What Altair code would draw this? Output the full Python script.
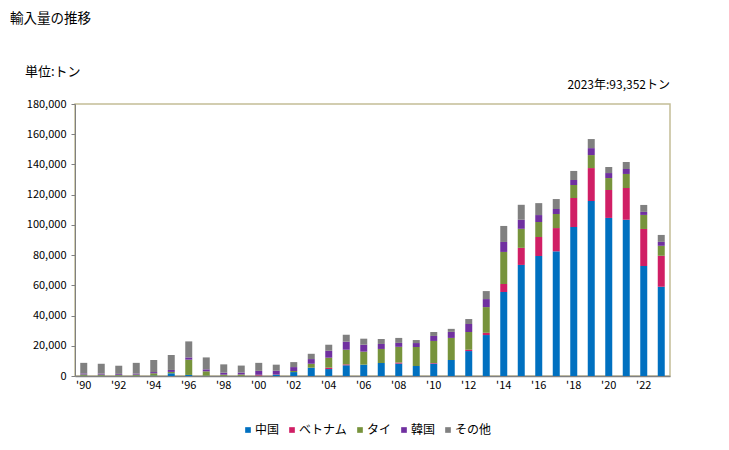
import altair as alt
import pandas as pd

years = [str(y) for y in range(1990, 2024)]
series = ["中国", "ベトナム", "タイ", "韓国", "その他"]
colors = ["#0070C0", "#D01F65", "#77933C", "#7030A0", "#808080"]

china = [200, 200, 200, 200, 300, 1800, 700, 200, 100, 100, 200, 700, 2600, 5500, 4600, 7100, 7500, 8600,
         8200, 6600, 8200, 10600, 16500, 27100, 55600, 73500, 79400, 82500, 98600, 115800, 104600, 103400,
         72800, 59052]
vietnam = [0, 0, 0, 0, 0, 0, 0, 0, 0, 0, 400, 0, 0, 0, 900, 600, 0, 0, 700, 0, 400, 0, 900, 1500,
           5300, 11300, 12600, 15400, 19200, 21800, 18500, 21000, 24500, 20500]
thai = [800, 700, 600, 700, 1500, 900, 10100, 2900, 800, 900, 200, 200, 700, 2600, 6600, 9700, 8600, 9300,
        10400, 12600, 14600, 14600, 11700, 17000, 21200, 12600, 9900, 9300, 8600, 8600, 7900, 9300, 9300, 6600]
korea = [700, 700, 600, 700, 800, 1300, 1500, 1300, 1300, 1300, 2600, 2600, 2600, 3100, 4600, 5300, 4600,
         3300, 2600, 2600, 3300, 4000, 5300, 5300, 6600, 6000, 4600, 3300, 3300, 4600, 3300, 3300, 2000, 2600]
other = [7000, 6500, 5400, 7100, 8000, 9900, 10600, 7900, 5500, 4600, 5300, 4000, 3300, 3500, 4000, 4600,
         4000, 3300, 3300, 2000, 2600, 2000, 3300, 5300, 10600, 9900, 7900, 6600, 6000, 6000, 4000, 4600,
         4600, 4600]

rows = []
for i, y in enumerate(years):
    for k, (name, vals) in enumerate(zip(series, [china, vietnam, thai, korea, other])):
        rows.append({"year": y, "country": name, "value": vals[i], "order": k})
df = pd.DataFrame(rows)

FONT = "Noto Sans CJK JP"

bars = alt.Chart(df).mark_bar().encode(
    x=alt.X("year:N", sort=years, title=None,
            scale=alt.Scale(paddingInner=0.6, paddingOuter=0.3),
            axis=alt.Axis(labelAngle=0, ticks=False, domainColor="#808080", domainWidth=1.5,
                          labelFont=FONT, labelFontSize=11, labelColor="#000000", labelPadding=3,
                          labelExpr="(+datum.value) % 2 == 0 ? \"'\" + substring(datum.value, 2, 4) : ''")),
    y=alt.Y("value:Q", stack="zero", title=None,
            scale=alt.Scale(domain=[0, 180000], nice=False),
            axis=alt.Axis(values=list(range(0, 180001, 20000)), format=",d", grid=False,
                          domainColor="#808080", tickColor="#808080", tickSize=4,
                          labelFont=FONT, labelFontSize=11, labelColor="#000000", labelPadding=5)),
    color=alt.Color("country:N", sort=series,
                    scale=alt.Scale(domain=series, range=colors),
                    legend=alt.Legend(title=None, orient="none", direction="horizontal",
                                      legendX=167, legendY=320, symbolType="square", symbolSize=32,
                                      symbolStrokeWidth=0, labelFont=FONT, labelFontSize=12,
                                      labelColor="#000000", labelOffset=1, columnPadding=6)),
    order=alt.Order("order:Q", sort="ascending"),
)

title_df = pd.DataFrame({"t": ["輸入量の推移"]})
title = alt.Chart(title_df).mark_text(align="left", baseline="top", font=FONT, fontSize=13.5,
                                      color="#000000").encode(
    text="t:N", x=alt.value(-65), y=alt.value(-92))

unit_df = pd.DataFrame({"t": ["単位:トン"]})
unit = alt.Chart(unit_df).mark_text(align="left", baseline="middle", font=FONT, fontSize=13,
                                    color="#000000").encode(
    text="t:N", x=alt.value(-50), y=alt.value(-32))

note_df = pd.DataFrame({"t": ["2023年:93,352トン"]})
note = alt.Chart(note_df).mark_text(align="right", baseline="middle", font=FONT, fontSize=12,
                                    color="#000000").encode(
    text="t:N", x=alt.value(595), y=alt.value(-19))

chart = alt.layer(bars, title, unit, note).properties(
    width=595, height=272,
    autosize=alt.AutoSizeParams(type="none"),
    padding={"left": 67, "top": 96, "right": 40, "bottom": 60},
).configure_view(stroke="#C4BD97", strokeWidth=1.5)

chart.save("out.html", embed_options={"renderer": "svg", "actions": False})
